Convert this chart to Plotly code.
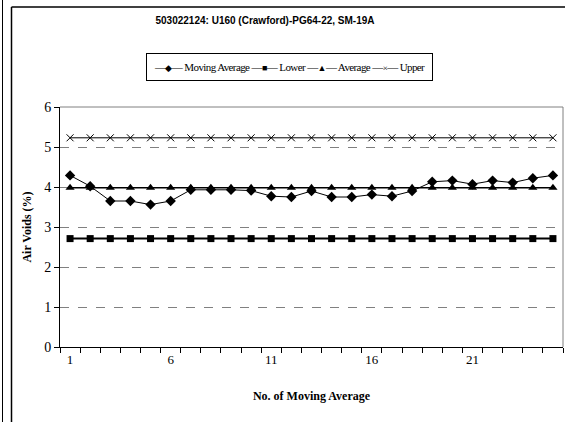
import plotly.graph_objects as go

x_vals = list(range(1, 26))
moving_avg = [4.29, 4.02, 3.65, 3.65, 3.56, 3.65, 3.93, 3.93, 3.93, 3.91, 3.77, 3.75,
              3.90, 3.75, 3.75, 3.81, 3.77, 3.90, 4.13, 4.16, 4.07, 4.16, 4.11, 4.22, 4.29]
lower = [2.71] * 25
average = [3.98] * 25
upper = [5.23] * 25
series_names = ["Moving Average", "Lower", "Average", "Upper"]
legend_glyphs = ["\u25c6", "\u25a0", "\u25b2", "\u00d7"]
x_tick_vals = [1, 6, 11, 16, 21]
x_tick_text = ["1", "6", "11", "16", "21"]

serif = "Liberation Serif, Times New Roman, serif"
narrow = "Liberation Sans Narrow, Arial Narrow, Liberation Sans, sans-serif"

fig = go.Figure()
fig.add_trace(go.Scatter(x=x_vals, y=moving_avg, name=series_names[0], mode="lines+markers",
                         line=dict(color="black", width=1),
                         marker=dict(symbol="diamond", size=8, color="black")))
fig.add_trace(go.Scatter(x=x_vals, y=lower, name=series_names[1], mode="lines+markers",
                         line=dict(color="black", width=2),
                         marker=dict(symbol="square", size=7, color="black")))
fig.add_trace(go.Scatter(x=x_vals, y=average, name=series_names[2], mode="lines+markers",
                         line=dict(color="black", width=1.5),
                         marker=dict(symbol="triangle-up", size=8, color="black")))
fig.add_trace(go.Scatter(x=x_vals, y=upper, name=series_names[3], mode="lines+markers",
                         line=dict(color="black", width=1),
                         marker=dict(symbol="x-thin-open", size=7, color="black",
                                     line=dict(color="black", width=1))))

L, R, T, B = 60, 2, 107, 75
W, H = 565, 422
pw = W - L - R
ph = H - T - B

def px(xp):
    return (xp - L) / pw

def py(yp):
    return (H - B - yp) / ph

legend_text = "<span style='letter-spacing:-0.6px'>" + " ".join(
    f"\u2014<span style='font-size:9px'>{g}</span>\u2014 {n}"
    for g, n in zip(legend_glyphs, series_names)
) + "</span>"

fig.update_layout(
    width=W, height=H,
    margin=dict(l=L, r=R, t=T, b=B),
    paper_bgcolor="white", plot_bgcolor="white",
    showlegend=False,
    title=dict(text="<b>503022124: U160 (Crawford)-PG64-22, SM-19A</b>",
               font=dict(family=narrow, size=10, color="black"),
               xref="container", x=265 / W, xanchor="center",
               yref="container", y=1 - 20 / H, yanchor="middle"),
    annotations=[
        dict(text=legend_text, xref="paper", yref="paper", x=px(289.5), y=py(66.5),
             xanchor="center", yanchor="middle", showarrow=False,
             font=dict(family=serif, size=11, color="black"),
             bordercolor="black", borderwidth=1, borderpad=7, bgcolor="white"),
    ],
    xaxis=dict(range=[0.5, 25.5], tickvals=x_tick_vals, ticktext=x_tick_text,
               ticks="", showgrid=False, zeroline=False,
               showline=True, linecolor="black", linewidth=1,
               tickfont=dict(family=serif, size=13, color="black"),
               minor=dict(tickvals=[i + 0.5 for i in range(0, 26)], ticks="outside",
                          ticklen=5, tickcolor="black", showgrid=False),
               title=dict(text="<b>No. of Moving Average</b>",
                          font=dict(family=serif, size=12, color="black"), standoff=26)),
    yaxis=dict(range=[0, 6], tickvals=[0, 1, 2, 3, 4, 5, 6], ticks="outside", ticklen=5,
               tickcolor="black", showgrid=True, gridcolor="#808080", griddash="dash",
               gridwidth=1, zeroline=False, showline=True, linecolor="black", linewidth=1,
               tickfont=dict(family=serif, size=14, color="black"),
               title=dict(text="<b>Air Voids (%)</b>",
                          font=dict(family=serif, size=12, color="black"), standoff=10)),
    shapes=[
        dict(type="line", xref="paper", yref="paper", x0=0, x1=1, y0=1, y1=1,
             line=dict(color="#808080", width=1)),
        dict(type="line", xref="paper", yref="paper", x0=1, x1=1, y0=0, y1=1,
             line=dict(color="#808080", width=1)),
        dict(type="line", xref="paper", yref="paper", x0=px(11.5), x1=px(570), y0=py(7), y1=py(7),
             line=dict(color="black", width=1.5)),
        dict(type="line", xref="paper", yref="paper", x0=px(11.5), x1=px(11.5), y0=py(7), y1=py(430),
             line=dict(color="black", width=1.5)),
        dict(type="line", xref="paper", yref="paper", x0=px(2.5), x1=px(2.5), y0=py(-5), y1=py(430),
             line=dict(color="black", width=1)),
    ],
)

fig.write_html("out.html")
